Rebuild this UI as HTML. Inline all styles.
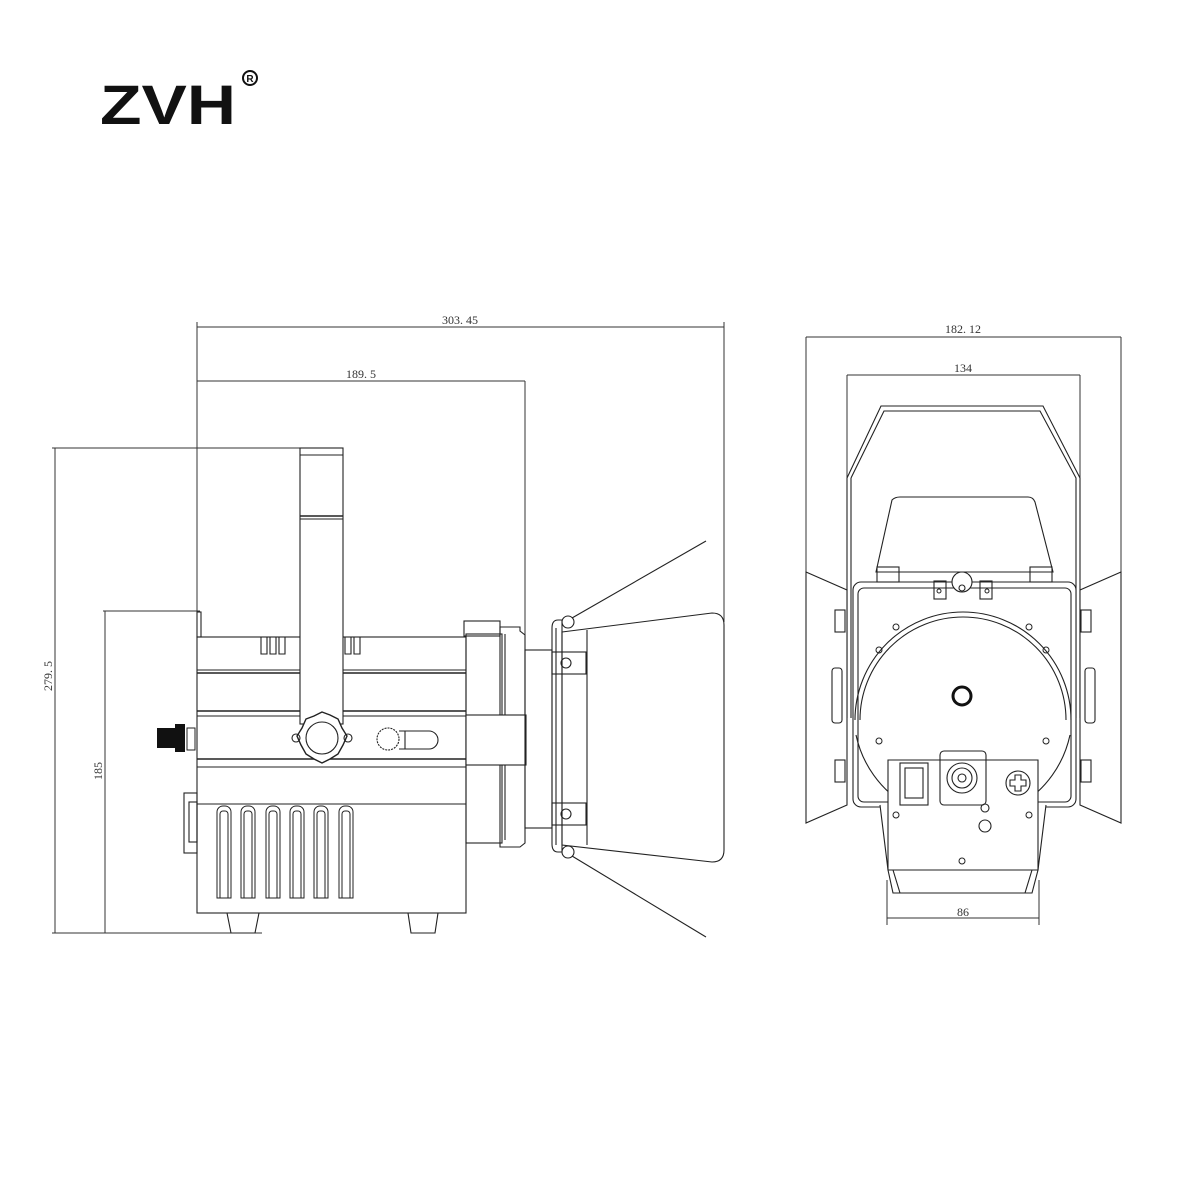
<!DOCTYPE html>
<html><head><meta charset="utf-8"><style>html,body{margin:0;padding:0;background:#fff}svg{display:block}</style></head><body>
<svg width="1200" height="1200" viewBox="0 0 1200 1200" xmlns="http://www.w3.org/2000/svg" font-family="Liberation Serif, serif">
<rect width="1200" height="1200" fill="#fff"/>
<text x="100" y="124" font-family="Liberation Sans, sans-serif" font-weight="bold" font-size="56" textLength="136" lengthAdjust="spacingAndGlyphs" fill="#111">ZVH</text>
<circle cx="250" cy="78" r="7" fill="none" stroke="#111" stroke-width="2"/>
<text x="250" y="82" font-family="Liberation Sans, sans-serif" font-weight="bold" font-size="10" text-anchor="middle" fill="#111">R</text>

<g fill="none" stroke="#333" stroke-width="1">
<line x1="197" y1="327" x2="724" y2="327"/><line x1="197" y1="322" x2="197" y2="612"/><line x1="724" y1="322" x2="724" y2="622"/>
<line x1="197" y1="381" x2="525" y2="381"/><line x1="525" y1="381" x2="525" y2="650"/>
<line x1="55" y1="448" x2="55" y2="933"/><line x1="52" y1="448" x2="300" y2="448"/><line x1="52" y1="933" x2="262" y2="933"/>
<line x1="105" y1="611" x2="105" y2="933"/><line x1="103" y1="611" x2="200" y2="611"/>
<line x1="806" y1="337" x2="1121" y2="337"/><line x1="806" y1="337" x2="806" y2="575"/><line x1="1121" y1="337" x2="1121" y2="575"/>
<line x1="847" y1="375" x2="1080" y2="375"/><line x1="847" y1="375" x2="847" y2="478"/><line x1="1080" y1="375" x2="1080" y2="478"/>
<line x1="887" y1="918" x2="1039" y2="918"/><line x1="887" y1="880" x2="887" y2="925"/><line x1="1039" y1="880" x2="1039" y2="925"/>
</g>
<g font-size="12" fill="#333" text-anchor="middle">
<text x="460" y="324">303. 45</text><text x="361" y="378">189. 5</text>
<text x="963" y="333">182. 12</text><text x="963" y="372">134</text><text x="963" y="916">86</text>
<text transform="translate(52,676) rotate(-90)">279. 5</text>
<text transform="translate(102,771) rotate(-90)">185</text>
</g>

<g fill="none" stroke="#222" stroke-width="1.1">
<rect x="197" y="637" width="269" height="276"/>
<line x1="197" y1="670" x2="466" y2="670"/><line x1="197" y1="673" x2="466" y2="673" stroke-width="1.6"/>
<line x1="197" y1="711" x2="466" y2="711" stroke-width="1.6"/><line x1="197" y1="716" x2="466" y2="716"/>
<line x1="197" y1="759" x2="466" y2="759" stroke-width="1.6"/><line x1="197" y1="767" x2="466" y2="767"/>
<line x1="197" y1="804" x2="466" y2="804"/>
<rect x="197" y="612" width="4" height="25"/>
<path d="M261 637v17h6v-17M270 637v17h6v-17M279 637v17h6v-17M345 637v17h6v-17M354 637v17h6v-17"/>
<rect x="300" y="448" width="43" height="276" fill="#fff"/>
<line x1="300" y1="455" x2="343" y2="455"/><line x1="300" y1="516" x2="343" y2="516" stroke-width="1.6"/><line x1="300" y1="519" x2="343" y2="519"/>
<path d="M322 712l8 3 8 4 4 9 5 8-4 9-5 9-8 5-8 4-8-4-8-5-5-9-4-9 5-8 4-9 8-3z" fill="#fff" stroke-width="1.4"/>
<circle cx="322" cy="738" r="16" fill="#fff"/><circle cx="296" cy="738" r="4"/><circle cx="348" cy="738" r="4"/>
<circle cx="388" cy="739" r="11" fill="#fff" stroke-dasharray="2 1"/>
<path d="M399 731h30a9 9 0 0 1 0 18h-30"/><line x1="405" y1="731" x2="405" y2="749"/>
<g stroke-width="1">
<path d="M217 898v-86a6 6 0 0 1 6-6h2a6 6 0 0 1 6 6v86z"/><path d="M220 898v-84a3 3 0 0 1 3-3h2a3 3 0 0 1 3 3v84"/>
<path d="M241 898v-86a6 6 0 0 1 6-6h2a6 6 0 0 1 6 6v86z"/><path d="M244 898v-84a3 3 0 0 1 3-3h2a3 3 0 0 1 3 3v84"/>
<path d="M266 898v-86a6 6 0 0 1 6-6h2a6 6 0 0 1 6 6v86z"/><path d="M269 898v-84a3 3 0 0 1 3-3h2a3 3 0 0 1 3 3v84"/>
<path d="M290 898v-86a6 6 0 0 1 6-6h2a6 6 0 0 1 6 6v86z"/><path d="M293 898v-84a3 3 0 0 1 3-3h2a3 3 0 0 1 3 3v84"/>
<path d="M314 898v-86a6 6 0 0 1 6-6h2a6 6 0 0 1 6 6v86z"/><path d="M317 898v-84a3 3 0 0 1 3-3h2a3 3 0 0 1 3 3v84"/>
<path d="M339 898v-86a6 6 0 0 1 6-6h2a6 6 0 0 1 6 6v86z"/><path d="M342 898v-84a3 3 0 0 1 3-3h2a3 3 0 0 1 3 3v84"/></g>
<path d="M227 913l4 20h24l4-20M408 913l3 20h24l3-20"/>
<rect x="184" y="793" width="13" height="60"/><rect x="189" y="802" width="8" height="40"/>
<rect x="464" y="621" width="36" height="15"/><rect x="466" y="634" width="36" height="209"/>
<path d="M500 627h20v4l5 4v208l-5 4h-20z"/><line x1="505" y1="634" x2="505" y2="840"/>
<rect x="466" y="715" width="60" height="50" fill="#fff"/>
<rect x="525" y="650" width="27" height="178"/>
<path d="M552 628q0-8 6-8h4v232h-4q-6 0-6-8z"/><line x1="556" y1="628" x2="556" y2="845"/>
<path d="M562 632l150-19q12 0 12 12v225q0 12-12 12l-150-17z"/><line x1="587" y1="630" x2="587" y2="845"/>
<rect x="552" y="652" width="34" height="22"/><circle cx="566" cy="663" r="5"/>
<rect x="552" y="803" width="34" height="22"/><circle cx="566" cy="814" r="5"/>
<line x1="572" y1="618" x2="706" y2="541"/><line x1="572" y1="856" x2="706" y2="937"/>
<circle cx="568" cy="622" r="6"/><circle cx="568" cy="852" r="6"/>
</g>
<path d="M157 728h18v-4h10v28h-10v-4h-18z" fill="#111"/><rect x="187" y="728" width="8" height="22" fill="none" stroke="#222"/>

<g fill="none" stroke="#222" stroke-width="1.1">
<path d="M847 478l34-72h162l37 72v240" /><path d="M851 478l33-67h156l36 67v240"/><line x1="847" y1="478" x2="847" y2="718"/><line x1="851" y1="478" x2="851" y2="718"/>
<path d="M876 572l16-72q3-3 8-3h128q5 0 7 5l18 70z" fill="#fff"/>
<path d="M806 572l41 18v215l-41 18z" fill="#fff"/><path d="M1121 572l-41 18v215l41 18z" fill="#fff"/>
<rect x="853" y="582" width="223" height="225" rx="8" fill="#fff"/><rect x="858" y="588" width="213" height="214" rx="6"/>
<path d="M855 720a108 108 0 0 1 216 0"/><path d="M860 720a103 103 0 0 1 206 0"/>
<path d="M856 735a108 108 0 0 0 50 70M1070 735a108 108 0 0 1-50 70"/>
<circle cx="962" cy="582" r="10" fill="#fff"/><circle cx="962" cy="588" r="3"/>
<rect x="934" y="581" width="12" height="18"/><rect x="980" y="581" width="12" height="18"/>
<rect x="877" y="567" width="22" height="15"/><rect x="1030" y="567" width="22" height="15"/>
<rect x="835" y="610" width="10" height="22"/><rect x="1081" y="610" width="10" height="22"/>
<rect x="835" y="760" width="10" height="22"/><rect x="1081" y="760" width="10" height="22"/>
<rect x="832" y="668" width="10" height="55" rx="3"/><rect x="1085" y="668" width="10" height="55" rx="3"/>
<path d="M880 805l8 65 5 23h139l6-23 8-65" fill="#fff"/>
<path d="M888 760h150v110h-150z" fill="#fff"/>
<line x1="888" y1="870" x2="1038" y2="870"/><path d="M893 870l7 23M1032 870l-7 23"/>
<g stroke-width="1"><circle cx="896" cy="627" r="3"/><circle cx="1029" cy="627" r="3"/><circle cx="879" cy="650" r="3"/><circle cx="1046" cy="650" r="3"/>
<circle cx="879" cy="741" r="3"/><circle cx="1046" cy="741" r="3"/><circle cx="896" cy="815" r="3"/><circle cx="1029" cy="815" r="3"/><circle cx="962" cy="861" r="3"/>
<circle cx="939" cy="591" r="2"/><circle cx="987" cy="591" r="2"/></g>
<rect x="900" y="763" width="28" height="42"/><rect x="905" y="768" width="18" height="30"/>
<rect x="940" y="751" width="46" height="54" rx="4"/><circle cx="962" cy="778" r="15"/><circle cx="962" cy="778" r="10"/><circle cx="962" cy="778" r="4"/>
<circle cx="1018" cy="783" r="12"/><path d="M1015 775h6v5h5v6h-5v5h-6v-5h-5v-6h5z"/>
<circle cx="985" cy="808" r="4"/><circle cx="985" cy="826" r="6"/>
</g>
<circle cx="962" cy="696" r="9" fill="none" stroke="#111" stroke-width="3"/>
</svg>
</body></html>
